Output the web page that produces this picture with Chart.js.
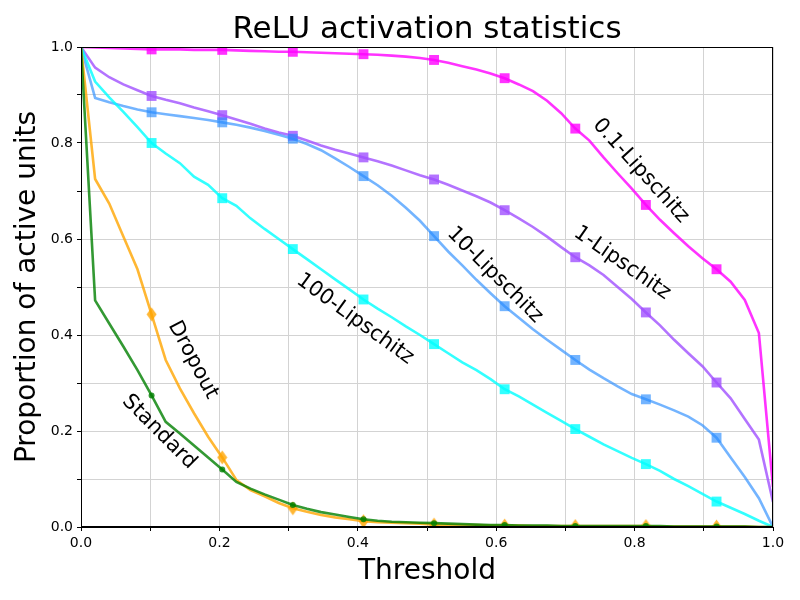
<!DOCTYPE html>
<html>
<head>
<meta charset="utf-8">
<title>ReLU activation statistics</title>
<script src="https://cdn.jsdelivr.net/npm/chart.js@4.4.0/dist/chart.umd.min.js"></script>
<style>
  html, body { margin: 0; padding: 0; background: #ffffff; }
  #wrap { width: 800px; height: 600px; }
</style>
</head>
<body>
<div id="wrap"><canvas id="chart" width="800" height="600"></canvas></div>
<script>
// Thresholds (x) shared by every curve
const thresholds = [0, 0.0204, 0.0408, 0.0612, 0.0816, 0.102, 0.1224, 0.1429, 0.1633, 0.1837,
  0.2041, 0.2245, 0.2449, 0.2653, 0.2857, 0.3061, 0.3265, 0.3469, 0.3673, 0.3878,
  0.4082, 0.4286, 0.449, 0.4694, 0.4898, 0.5102, 0.5306, 0.551, 0.5714, 0.5918,
  0.6122, 0.6327, 0.6531, 0.6735, 0.6939, 0.7143, 0.7347, 0.7551, 0.7755, 0.7959,
  0.8163, 0.8367, 0.8571, 0.8776, 0.898, 0.9184, 0.9388, 0.9592, 0.9796, 1.0];

// Proportion of active units per model
const lip01 = [1.0, 0.999, 0.998, 0.997, 0.996, 0.995, 0.995, 0.995, 0.994, 0.994,
  0.994, 0.993, 0.992, 0.991, 0.99, 0.99, 0.989, 0.988, 0.987, 0.986,
  0.985, 0.984, 0.982, 0.98, 0.977, 0.973, 0.967, 0.96, 0.953, 0.945,
  0.935, 0.922, 0.908, 0.888, 0.862, 0.83, 0.805, 0.77, 0.737, 0.705,
  0.671, 0.64, 0.612, 0.585, 0.56, 0.537, 0.511, 0.473, 0.404, 0.083];

const lip1 = [1.0, 0.957, 0.937, 0.922, 0.91, 0.898, 0.89, 0.883, 0.874, 0.866,
  0.858, 0.849, 0.84, 0.83, 0.822, 0.815, 0.805, 0.795, 0.786, 0.778,
  0.77, 0.762, 0.753, 0.743, 0.733, 0.724, 0.713, 0.701, 0.689, 0.676,
  0.66, 0.643, 0.625, 0.605, 0.583, 0.562, 0.545, 0.525, 0.5, 0.475,
  0.447, 0.42, 0.39, 0.362, 0.335, 0.301, 0.268, 0.225, 0.182, 0.052];

const lip10 = [1.0, 0.894, 0.885, 0.877, 0.87, 0.864, 0.86, 0.856, 0.852, 0.848,
  0.843, 0.838, 0.832, 0.825, 0.817, 0.809, 0.798, 0.785, 0.768, 0.75,
  0.731, 0.712, 0.69, 0.665, 0.638, 0.606, 0.574, 0.545, 0.515, 0.487,
  0.46, 0.436, 0.412, 0.39, 0.369, 0.348, 0.328, 0.31, 0.293, 0.277,
  0.266, 0.255, 0.243, 0.23, 0.212, 0.186, 0.145, 0.104, 0.06, 0.0];

const lip100 = [1.0, 0.928, 0.895, 0.865, 0.833, 0.8, 0.778, 0.758, 0.73, 0.713,
  0.685, 0.669, 0.643, 0.621, 0.6, 0.579, 0.558, 0.537, 0.516, 0.495,
  0.474, 0.455, 0.437, 0.418, 0.4, 0.381, 0.362, 0.343, 0.327, 0.308,
  0.287, 0.272, 0.255, 0.238, 0.221, 0.204, 0.188, 0.172, 0.158, 0.144,
  0.131, 0.117, 0.1, 0.085, 0.069, 0.053, 0.04, 0.027, 0.013, 0.0];

const dropout = [1.0, 0.725, 0.674, 0.605, 0.537, 0.443, 0.348, 0.289, 0.237, 0.188,
  0.145, 0.098, 0.077, 0.064, 0.05, 0.039, 0.032, 0.025, 0.02, 0.016,
  0.012, 0.01, 0.009, 0.008, 0.007, 0.005, 0.005, 0.004, 0.004, 0.003,
  0.003, 0.003, 0.002, 0.002, 0.002, 0.002, 0.002, 0.002, 0.002, 0.002,
  0.002, 0.001, 0.001, 0.001, 0.001, 0.001, 0.001, 0.001, 0.0, 0.0];

const standard = [1.0, 0.472, 0.424, 0.376, 0.327, 0.274, 0.219, 0.195, 0.17, 0.145,
  0.12, 0.094, 0.08, 0.068, 0.057, 0.046, 0.038, 0.031, 0.026, 0.021,
  0.016, 0.013, 0.011, 0.01, 0.009, 0.008, 0.007, 0.006, 0.005, 0.004,
  0.004, 0.003, 0.003, 0.003, 0.002, 0.002, 0.002, 0.002, 0.002, 0.002,
  0.002, 0.002, 0.001, 0.001, 0.001, 0.001, 0.001, 0.001, 0.0, 0.0];

const seriesNames = ['0.1-Lipschitz', '1-Lipschitz', '10-Lipschitz', '100-Lipschitz', 'Dropout', 'Standard'];

// thin diamond marker (matplotlib 'd')
function makeDiamond(color) {
  const c = document.createElement('canvas');
  c.width = 11; c.height = 15;
  const g = c.getContext('2d');
  g.fillStyle = color;
  g.beginPath();
  g.moveTo(5.5, 0.5);
  g.lineTo(10.5, 7.5);
  g.lineTo(5.5, 14.5);
  g.lineTo(0.5, 7.5);
  g.closePath();
  g.fill();
  return c;
}

const FONT = 'DejaVu Sans';
const markEvery = (r) => (ctx) => {
  const i = ctx.dataIndex;
  return (i % 5 === 0 && i > 0 && i < 49) ? r : 0;
};

function makeSeries(label, values, color, style, r, order) {
  return {
    label: label,
    data: thresholds.map((t, i) => ({ x: t, y: values[i] })),
    borderColor: color,
    backgroundColor: color,
    borderWidth: 2.6,
    tension: 0,
    fill: false,
    pointStyle: style,
    pointRadius: markEvery(r),
    pointBorderWidth: 0,
    pointBackgroundColor: color,
    order: order
  };
}

const orange = 'rgba(255, 165, 0, 0.8)';

const datasets = [
  makeSeries(seriesNames[0], lip01, 'rgba(255, 0, 255, 0.8)', 'rect', 7, 6),
  makeSeries(seriesNames[1], lip1, 'rgba(160, 80, 255, 0.8)', 'rect', 7, 5),
  makeSeries(seriesNames[2], lip10, 'rgba(40, 140, 255, 0.65)', 'rect', 7, 4),
  makeSeries(seriesNames[3], lip100, 'rgba(0, 255, 255, 0.8)', 'rect', 7, 3),
  makeSeries(seriesNames[4], dropout, orange, makeDiamond(orange), 6, 2),
  makeSeries(seriesNames[5], standard, 'rgba(0, 128, 0, 0.8)', 'circle', 3, 1)
];

// curve labels written along the lines
const curveLabels = [
  { text: '0.1-Lipschitz', x: 0.809, y: 0.742, angle: 48 },
  { text: '1-Lipschitz', x: 0.782, y: 0.55, angle: 35 },
  { text: '10-Lipschitz', x: 0.598, y: 0.525, angle: 45 },
  { text: '100-Lipschitz', x: 0.396, y: 0.433, angle: 36 },
  { text: 'Dropout', x: 0.162, y: 0.348, angle: 62 },
  { text: 'Standard', x: 0.113, y: 0.198, angle: 45 }
];

const labelPlugin = {
  id: 'curveLabels',
  afterDatasetsDraw(chart) {
    const { ctx, scales } = chart;
    ctx.save();
    ctx.fillStyle = '#000';
    ctx.font = '21px "' + FONT + '"';
    ctx.textAlign = 'center';
    ctx.textBaseline = 'middle';
    curveLabels.forEach(l => {
      const px = scales.x.getPixelForValue(l.x);
      const py = scales.y.getPixelForValue(l.y);
      ctx.save();
      ctx.translate(px, py);
      ctx.rotate(l.angle * Math.PI / 180);
      ctx.fillText(l.text, 0, 0);
      ctx.restore();
    });
    ctx.restore();
  }
};

// box around the plot area + title centred over it
const framePlugin = {
  id: 'frame',
  afterDraw(chart) {
    const { ctx, chartArea } = chart;
    ctx.save();
    ctx.strokeStyle = '#000';
    ctx.lineWidth = 1;
    ctx.strokeRect(Math.round(chartArea.left) + 0.5, Math.round(chartArea.top) + 0.5,
      Math.round(chartArea.right - chartArea.left) - 1, Math.round(chartArea.bottom - chartArea.top) - 1);

    ctx.fillStyle = '#000';
    ctx.font = '31px "' + FONT + '"';
    ctx.textAlign = 'center';
    ctx.textBaseline = 'alphabetic';
    ctx.fillText('ReLU activation statistics', (chartArea.left + chartArea.right) / 2, chartArea.top - 9);
    ctx.restore();
  }
};

const tickLabel = (v) => {
  const k = Math.round(v * 10);
  return k % 2 === 0 ? (k / 10).toFixed(1) : '';
};

new Chart(document.getElementById('chart'), {
  type: 'line',
  data: { datasets: datasets },
  options: {
    responsive: false,
    animation: false,
    layout: { padding: { left: 0, right: 27, top: 47, bottom: 0 } },
    plugins: {
      legend: { display: false },
      tooltip: { enabled: false },
      title: { display: false }
    },
    scales: {
      x: {
        type: 'linear',
        min: 0,
        max: 1,
        afterFit: (scale) => { scale.height = 73; },
        ticks: {
          stepSize: 0.1,
          color: '#000',
          padding: 4,
          maxRotation: 0,
          autoSkip: false,
          font: { family: FONT, size: 14 },
          callback: tickLabel
        },
        grid: { color: '#d3d3d3', tickColor: '#000', tickLength: 4, lineWidth: 1 },
        border: { display: true, color: '#000', width: 1 },
        title: {
          display: true,
          text: 'Threshold',
          color: '#000',
          font: { family: FONT, size: 28 },
          padding: { top: 0, bottom: 11 }
        }
      },
      y: {
        type: 'linear',
        min: 0,
        max: 1,
        afterFit: (scale) => { scale.width = 81; },
        ticks: {
          stepSize: 0.1,
          color: '#000',
          padding: 4,
          autoSkip: false,
          font: { family: FONT, size: 14 },
          callback: tickLabel
        },
        grid: { color: '#d3d3d3', tickColor: '#000', tickLength: 4, lineWidth: 1 },
        border: { display: true, color: '#000', width: 1 },
        title: {
          display: true,
          text: 'Proportion of active units',
          color: '#000',
          font: { family: FONT, size: 28 },
          padding: { top: 11, bottom: 0 }
        }
      }
    }
  },
  plugins: [labelPlugin, framePlugin]
});
</script>
</body>
</html>
